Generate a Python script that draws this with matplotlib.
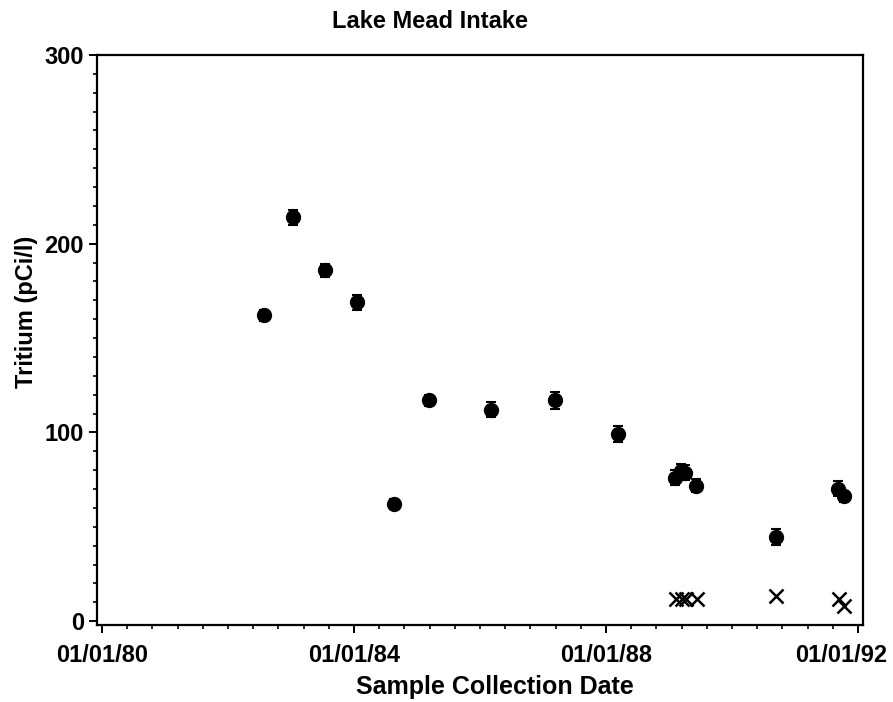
import numpy as np
import pandas as pd
import matplotlib
matplotlib.use("Agg")
import matplotlib.pyplot as plt
from matplotlib.ticker import MultipleLocator, FixedLocator

# ── Data ────────────────────────────────────────────────────────────────────
dot_dates = ["1982-07-27", "1983-01-12", "1983-07-16", "1984-01-19",
             "1984-08-22", "1985-03-09", "1986-03-07", "1987-03-14",
             "1988-03-10", "1989-02-06", "1989-03-10", "1989-04-04",
             "1989-06-05", "1990-09-16", "1991-09-09", "1991-10-12"]
dot_values = [162, 214, 186, 169, 62, 117, 112, 117,
              99, 76, 79.5, 78.6, 71.7, 44.6, 70.3, 66.2]
dot_errors = [3, 4, 3.5, 4, 2.5, 3, 4, 4.5,
              4.2, 4, 4, 4, 3.5, 4, 4, 3]

x_dates = ["1989-02-10", "1989-03-16", "1989-04-12", "1989-06-15",
           "1990-09-16", "1991-09-12", "1991-10-15"]
x_values = [11.8, 11.8, 11.8, 11.8, 13.1, 11.8, 7.8]

year_ticks = [1980, 1984, 1988, 1992]
year_labels = ["01/01/80", "01/01/84", "01/01/88", "01/01/92"]


def to_decimal_year(dates):
    d = pd.to_datetime(pd.Series(dates))
    start = pd.to_datetime(d.dt.year.astype(str) + "-01-01")
    end = pd.to_datetime((d.dt.year + 1).astype(str) + "-01-01")
    return (d.dt.year + (d - start) / (end - start)).to_numpy()


FONT = ["Liberation Sans", "DejaVu Sans"]
plt.rcParams["font.family"] = FONT
plt.rcParams["font.weight"] = "bold"

fig = plt.figure(figsize=(8.93, 7.02), dpi=100)
ax = fig.add_axes([0.1086, 0.1097, 0.8578, 0.8120])

xd = to_decimal_year(dot_dates)
xx = to_decimal_year(x_dates)

ax.errorbar(xd, dot_values, yerr=dot_errors, fmt="o", ms=10, color="black",
            ecolor="black", elinewidth=1.5, capsize=3.6, capthick=1.5, zorder=3)
ax.plot(xx, x_values, "x", ms=10, mew=1.8, color="black", zorder=3)

ax.set_xlim(1979.92, 1992.08)
ax.set_ylim(-2, 300)

ax.xaxis.set_major_locator(FixedLocator(year_ticks))
ax.xaxis.set_minor_locator(MultipleLocator(0.4))
ax.set_xticklabels(year_labels[:-1] + [""])
ax.yaxis.set_major_locator(FixedLocator([0, 100, 200, 300]))
ax.yaxis.set_minor_locator(MultipleLocator(10))

ax.tick_params(which="major", direction="out", length=6, width=1.4,
               labelsize=17)
ax.tick_params(axis="x", which="major", pad=7.5)
ax.tick_params(axis="y", which="major", pad=3.5)
ax.tick_params(which="minor", direction="out", length=3.2, width=1.2)
for s in ax.spines.values():
    s.set_linewidth(1.6)

# last date label sits pulled in from the right edge of the page
ax.annotate(year_labels[-1], xy=(1992, 0), xycoords=("data", "axes fraction"),
            xytext=(29, -19), textcoords="offset pixels",
            ha="right", va="top", fontsize=17)

fig.text(0.4815, 0.969, "Lake Mead Intake", ha="center", va="center",
         fontsize=17)
fig.text(0.554, 0.021, "Sample Collection Date", ha="center", va="center",
         fontsize=18)
fig.text(0.030, 0.5556, "Tritium (pCi/l)", ha="center", va="center",
         rotation=90, fontsize=17)

fig.savefig("out.png", dpi=100)
